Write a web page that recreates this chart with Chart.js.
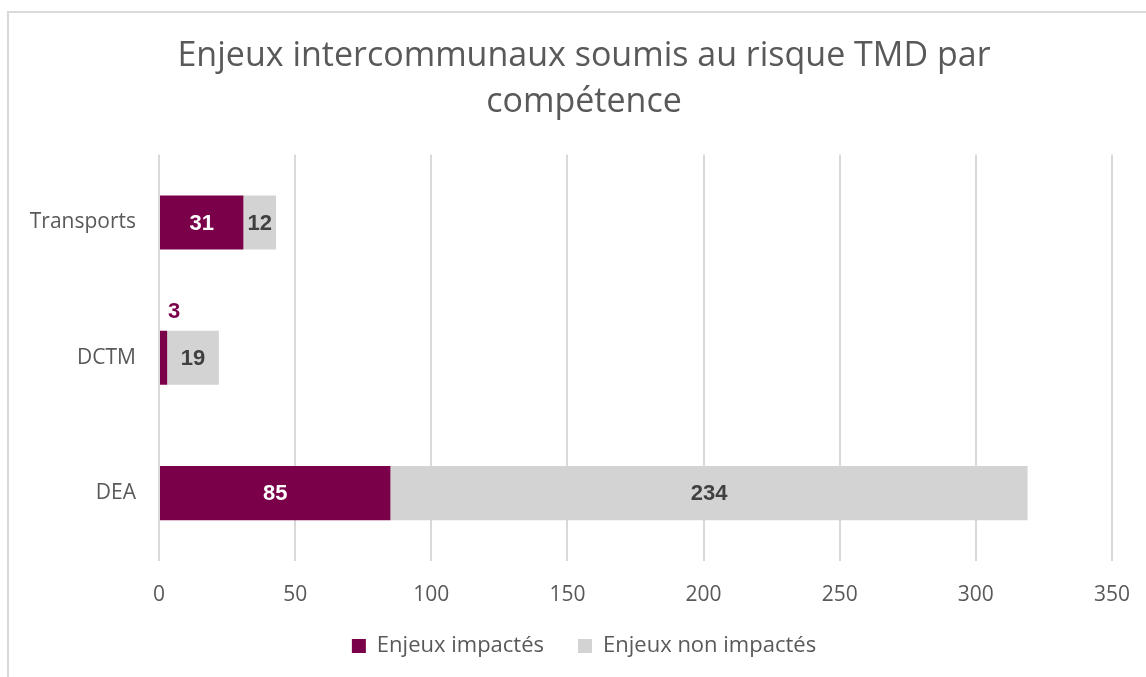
<!DOCTYPE html>
<html>
<head>
<meta charset="utf-8">
<script src="https://cdn.jsdelivr.net/npm/chart.js@4"></script>
<style>
  html, body { margin:0; padding:0; background:#fff; overflow:hidden; }
  #wrap { position:absolute; left:7px; top:11px; width:1152px; height:680px;
          border-left:2px solid #d9d9d9; border-top:2px solid #d9d9d9; box-sizing:border-box; }
  canvas { display:block; }
</style>
</head>
<body>
<div id="wrap"><canvas id="c"></canvas></div>
<script>
const categories = ['Transports', 'DCTM', 'DEA'];
const impactes = [31, 3, 85];
const nonImpactes = [12, 19, 234];
const xTicks = [0, 50, 100, 150, 200, 250, 300, 350];

const FONT = "'Open Sans', 'Liberation Sans', sans-serif";
const LABEL_FONT = "'Liberation Sans', Arial, sans-serif";

// values drawn on the bars, like the Excel data labels
const barLabels = {
  id: 'barLabels',
  afterDatasetsDraw(chart){
    const ctx = chart.ctx;
    ctx.save();
    ctx.font = 'bold 22px ' + LABEL_FONT;
    ctx.textBaseline = 'middle';
    ctx.textAlign = 'center';
    chart.data.datasets.forEach((ds, i) => {
      const meta = chart.getDatasetMeta(i);
      meta.data.forEach((bar, j) => {
        const v = ds.data[j];
        const w = Math.abs(bar.x - bar.base);
        if(w < 20){
          ctx.fillStyle = ds.backgroundColor;
          ctx.fillText(String(v), bar.x + 7, bar.y - 46);
        }else{
          ctx.fillStyle = ds.labelColor;
          ctx.fillText(String(v), (bar.x + bar.base) / 2, bar.y + 1);
        }
      });
    });
    ctx.restore();
  }
};

new Chart(document.getElementById('c').getContext('2d'), {
  type: 'bar',
  data: {
    labels: categories,
    datasets: [
      { label: 'Enjeux impactés', data: impactes, backgroundColor: '#7a0049', labelColor: '#ffffff',
        borderWidth: 0, categoryPercentage: 1, barPercentage: 0.4 },
      { label: 'Enjeux non impactés', data: nonImpactes, backgroundColor: '#d3d3d3', labelColor: '#404040',
        borderWidth: 0, categoryPercentage: 1, barPercentage: 0.4 }
    ]
  },
  options: {
    indexAxis: 'y',
    responsive: true,
    maintainAspectRatio: false,
    animation: false,
    layout: { padding: { top: 20, right: 0, bottom: 24, left: 0 } },
    scales: {
      x: {
        stacked: true, min: 0, max: 350,
        afterBuildTicks: axis => { axis.ticks = xTicks.map(v => ({ value: v })); },
        afterFit: axis => { axis.height -= 29; },
        grid: { color: '#d9d9d9', lineWidth: 2, drawTicks: false },
        border: { display: false },
        ticks: { color: '#595959', font: { family: FONT, size: 21 }, padding: 22 }
      },
      y: {
        stacked: true,
        grid: { display: false },
        border: { display: false },
        afterFit: axis => { axis.width = 150; },
        ticks: { color: '#595959', font: { family: FONT, size: 21 }, padding: 15 }
      },
      // empty right margin so the plot ends where the reference does
      yRight: {
        type: 'category', labels: categories, position: 'right',
        grid: { display: false }, border: { display: false },
        ticks: { display: false },
        afterFit: axis => { axis.width = 47; }
      }
    },
    plugins: {
      title: {
        display: true,
        text: ['Enjeux intercommunaux soumis au risque TMD par', 'compétence'],
        color: '#595959',
        font: { family: FONT, size: 34, weight: 'normal', lineHeight: 1.35 },
        padding: { top: 0, bottom: 30 }
      },
      legend: {
        position: 'bottom',
        labels: { color: '#595959', font: { family: FONT, size: 22 }, boxWidth: 14, boxHeight: 14, padding: 34 }
      },
      tooltip: { enabled: false }
    }
  },
  plugins: [barLabels]
});
</script>
</body>
</html>
